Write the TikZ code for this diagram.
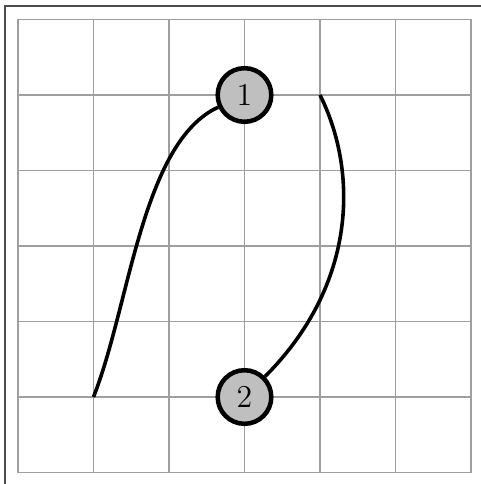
\documentclass[tikz,border=0pt]{standalone}
\begin{document}
\begin{tikzpicture}[x=1cm,y=1cm,
  gridline/.style={gray!75, line width=0.4pt},
  framebox/.style={gray!60!black, line width=0.6pt},
  ball/.style={circle, draw, fill=gray!50, line width=1.7pt, minimum size=0.71cm, inner sep=0pt, font=\large},
  curve/.style={line width=1.35pt}]
\useasboundingbox (-0.238,-0.152) rectangle (6.132,6.258);
\draw[framebox] (-0.172,-0.18) rectangle (6.18,6.179);
\draw[gridline] (0,0) grid (6,6);
\node[ball] (n1) at (3,5) {1};
\node[ball] (n2) at (3,1) {2};
\coordinate (a) at (1,1);
\coordinate (b) at (4,5);
\draw[curve] (a) .. controls (1.48,2.21) and (1.64,4.37) .. (n1);
\draw[curve] (b) .. controls (4.5,4) and (4.5,2.5) .. (n2);
\end{tikzpicture}
\end{document}
